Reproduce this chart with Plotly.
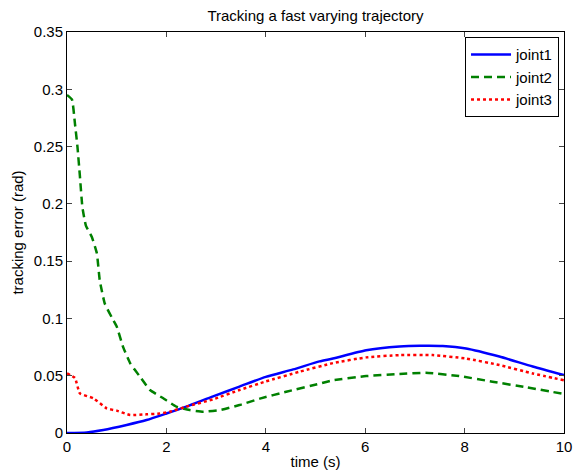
import plotly.graph_objects as go

# joint1 (blue solid)
t1 = [0, 0.4, 0.73, 1.2, 1.6, 2.0, 2.4, 2.94, 3.47, 4.0, 4.55, 5.08, 5.35, 6.02, 6.69, 7.1, 7.56, 8.03, 8.7, 9.37, 10.0]
j1 = [0, 0.0005, 0.0026, 0.007, 0.0113, 0.017, 0.023, 0.032, 0.0405, 0.049, 0.0555, 0.0625, 0.065, 0.0722, 0.0755, 0.0762, 0.076, 0.0738, 0.0667, 0.058, 0.0505]

# joint2 (green dashed)
t2 = [0, 0.1, 0.16, 0.21, 0.26, 0.31, 0.38, 0.5, 0.6, 0.66, 0.76, 0.9, 1.0, 1.13, 1.27, 1.47, 1.67, 1.93, 2.2, 2.47, 2.74, 3.07, 3.47, 3.88, 4.41, 5.08, 5.35, 6.02, 6.69, 7.22, 7.89, 8.56, 9.23, 10.0]
j2 = [0.295, 0.291, 0.27, 0.25, 0.224, 0.197, 0.181, 0.171, 0.157, 0.133, 0.113, 0.101, 0.093, 0.075, 0.061, 0.049, 0.0375, 0.0305, 0.023, 0.020, 0.0186, 0.020, 0.0244, 0.030, 0.036, 0.043, 0.046, 0.0497, 0.0515, 0.0526, 0.0497, 0.0448, 0.040, 0.034]

# joint3 (red dotted)
t3 = [0, 0.16, 0.26, 0.53, 0.8, 1.0, 1.27, 1.6, 1.87, 2.07, 2.4, 2.94, 3.47, 4.0, 4.68, 5.35, 6.02, 6.69, 7.36, 8.03, 8.7, 9.37, 10.0]
j3 = [0.052, 0.048, 0.0346, 0.0303, 0.0215, 0.0195, 0.0157, 0.0163, 0.017, 0.0186, 0.023, 0.0294, 0.0375, 0.045, 0.0535, 0.061, 0.066, 0.068, 0.068, 0.065, 0.0593, 0.052, 0.046]

x_ticks = [0, 2, 4, 6, 8, 10]
y_ticks = [0, 0.05, 0.1, 0.15, 0.2, 0.25, 0.3, 0.35]
y_labels = ["0", "0.05", "0.1", "0.15", "0.2", "0.25", "0.3", "0.35"]

fig = go.Figure()
fig.add_trace(go.Scatter(x=t1, y=j1, mode="lines", name="joint1",
                         line=dict(color="rgb(0,0,255)", width=2.5, shape="spline", smoothing=0.6)))
fig.add_trace(go.Scatter(x=t2, y=j2, mode="lines", name="joint2",
                         line=dict(color="rgb(0,128,0)", width=2.5, dash="8px,5px", shape="spline", smoothing=0.4)))
fig.add_trace(go.Scatter(x=t3, y=j3, mode="lines", name="joint3",
                         line=dict(color="rgb(255,0,0)", width=2.5, dash="3px,3px", shape="spline", smoothing=0.4)))

font = "Liberation Sans, Arial, Helvetica, sans-serif"
fig.update_layout(
    width=573, height=476,
    margin=dict(l=67, r=9, t=32, b=43),
    paper_bgcolor="white", plot_bgcolor="white",
    font=dict(family=font, size=15, color="black"),
    title=dict(text="Tracking a fast varying trajectory", x=(67 + 564) / 2 / 573, xanchor="center",
               y=1 - 16 / 476, yanchor="middle", font=dict(size=15)),
    showlegend=True,
    legend=dict(x=0.99, y=0.987, xanchor="right", yanchor="top",
                bordercolor="black", borderwidth=1, bgcolor="white",
                font=dict(size=15), tracegroupgap=0, itemwidth=40),
)
fig.update_xaxes(range=[0, 10], tickvals=x_ticks, ticks="inside", ticklen=5,
                 showline=True, linecolor="black", linewidth=1, mirror="ticks",
                 showgrid=False, zeroline=False, automargin=False,
                 tickfont=dict(size=15),
                 title=dict(text="time (s)", standoff=2, font=dict(size=15)))
fig.update_yaxes(range=[0, 0.35], tickvals=y_ticks, ticktext=y_labels, ticks="inside", ticklen=5,
                 showline=True, linecolor="black", linewidth=1, mirror="ticks",
                 showgrid=False, zeroline=False, automargin=False,
                 tickfont=dict(size=15),
                 title=dict(text="tracking error (rad)", standoff=6, font=dict(size=15)))

fig.write_html("out.html")
